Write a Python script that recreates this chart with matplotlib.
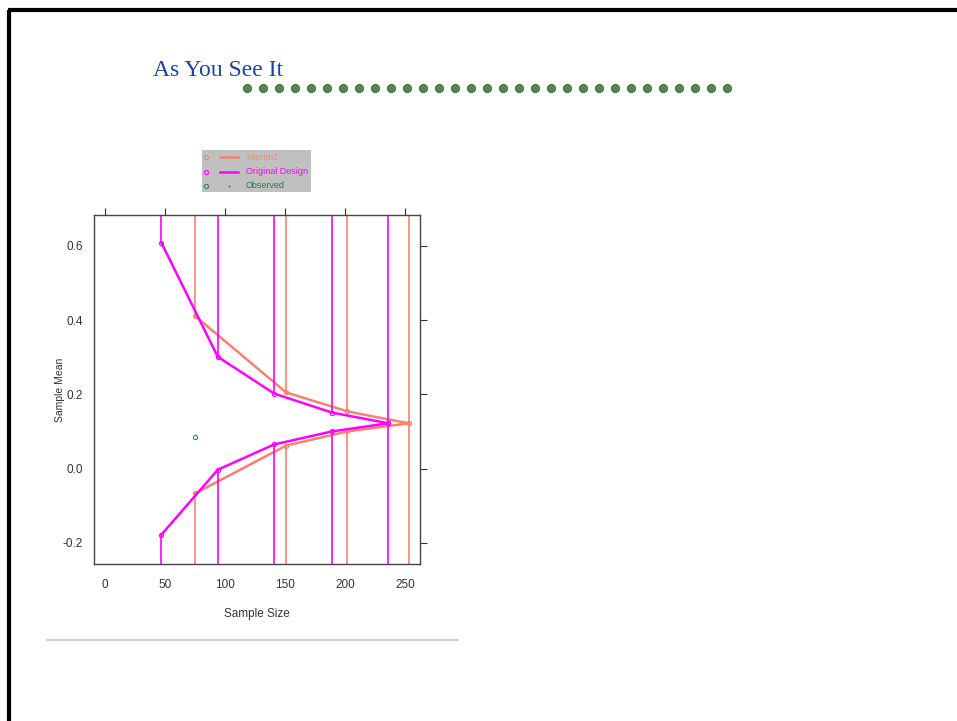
import matplotlib
matplotlib.use("Agg")
import matplotlib.pyplot as plt
import numpy as np

# Sequential design boundaries: sample size vs. sample mean
orig_n = [47, 94, 141, 189, 236]
orig_upper = [0.608, 0.301, 0.202, 0.151, 0.122]
orig_lower = [-0.178, -0.003, 0.065, 0.100, 0.122]

interim_n = [75, 151, 202, 253]
interim_upper = [0.411, 0.205, 0.154, 0.122]
interim_lower = [-0.067, 0.062, 0.100, 0.122]

observed_n = [75]
observed_mean = [0.084]

x_ticks = [0, 50, 100, 150, 200, 250]
y_ticks = [-0.2, 0.0, 0.2, 0.4, 0.6]
legend_labels = ["interim1", "Original Design", "Observed"]

SALMON = "#FA8072"
MAGENTA = "#FF00FF"
GREEN = "#2E8B57"
NARROW = ["Liberation Sans", "DejaVu Sans"]

W, H = 957, 721
fig = plt.figure(figsize=(W / 100, H / 100), dpi=100)

# slide background: border, heading, dotted rule, separator
bg = fig.add_axes([0, 0, 1, 1])
bg.set_xlim(0, W)
bg.set_ylim(H, 0)
bg.axis("off")
bg.plot([8, W], [10, 10], color="black", lw=3, solid_capstyle="butt")
bg.plot([9, 9], [10, H], color="black", lw=3, solid_capstyle="butt")
bg.text(153, 70, "As You See It", family=["Liberation Serif", "DejaVu Serif"],
        fontsize=17, color="#1F449C", va="center", ha="left")
dots_x = 247 + 16 * np.arange(31)
bg.scatter(dots_x, np.full_like(dots_x, 88), s=34, color="#4E8A4E",
           edgecolors="#2F5F2F", linewidths=0.6, zorder=3)
bg.plot([47, 458], [640, 640], color="#C8C8C8", lw=1.3)

# main plot area
left, right, top, bottom = 94, 420, 215, 564
ax = fig.add_axes([left / W, (H - bottom) / H, (right - left) / W, (bottom - top) / H])
ax.set_xlim(-9.2, 262.5)
ax.set_ylim(-0.257, 0.683)
y0, y1 = ax.get_ylim()

for n, up, lo, col in [(interim_n, interim_upper, interim_lower, SALMON),
                       (orig_n, orig_upper, orig_lower, MAGENTA)]:
    ax.vlines(n, up, y1, color=col, lw=1.2)
    ax.vlines(n, y0, lo, color=col, lw=1.2)
    ax.plot(n, up, "-o", color=col, lw=1.8, ms=3, mfc="none", mew=0.8)
    ax.plot(n, lo, "-o", color=col, lw=1.8, ms=3, mfc="none", mew=0.8)

ax.plot(observed_n, observed_mean, "o", color=GREEN, ms=3, mfc="none", mew=0.8)

ax.set_xticks(x_ticks)
ax.set_yticks(y_ticks)
ax.set_yticklabels([f"{v:.1f}" for v in y_ticks])
ax.tick_params(direction="out", colors="#333333", labelsize=8.5)
ax.tick_params(axis="x", pad=6, top=True, length=5)
ax.tick_params(axis="y", pad=3, right=True, length=5)
# ticks only on the top and right edges
for t in ax.xaxis.get_major_ticks():
    t.tick1line.set_visible(False)
for t in ax.yaxis.get_major_ticks():
    t.tick1line.set_visible(False)
for lab in ax.get_xticklabels() + ax.get_yticklabels():
    lab.set_family(NARROW)
for sp in ax.spines.values():
    sp.set_color("#444444")
    sp.set_linewidth(1.0)

ax.set_xlabel("Sample Size", family=NARROW, fontsize=8.5, color="#333333", labelpad=12)
ax.set_ylabel("Sample Mean", family=NARROW, fontsize=7.5, color="#333333")
ax.yaxis.set_label_coords((65 - left) / (right - left), 0.5)

# legend panel
lx0, lx1, ly0, ly1 = 202, 311, 150, 192
lg = fig.add_axes([lx0 / W, (H - ly1) / H, (lx1 - lx0) / W, (ly1 - ly0) / H])
lg.set_xlim(lx0, lx1)
lg.set_ylim(ly1, ly0)
lg.set_facecolor("#C0C0C0")
lg.set_xticks([])
lg.set_yticks([])
for sp in lg.spines.values():
    sp.set_visible(False)
legend_colors = [SALMON, MAGENTA, GREEN]
text_colors = ["#F7897C", MAGENTA, "#1E8449"]
for i, (lab, col, tcol) in enumerate(zip(legend_labels, legend_colors, text_colors)):
    yy = 157 + 14.5 * i
    lg.plot([206], [yy], "o", color=col, ms=3, mfc="none", mew=0.8)
    if i < 2:
        lg.plot([220, 238], [yy, yy], color=col, lw=1.8)
    else:
        lg.plot([229], [yy], ".", color=col, ms=1)
    lg.text(246, yy, lab, family=NARROW, fontsize=6.5, color=tcol, va="center", ha="left")

fig.savefig("out.png", dpi=100)
